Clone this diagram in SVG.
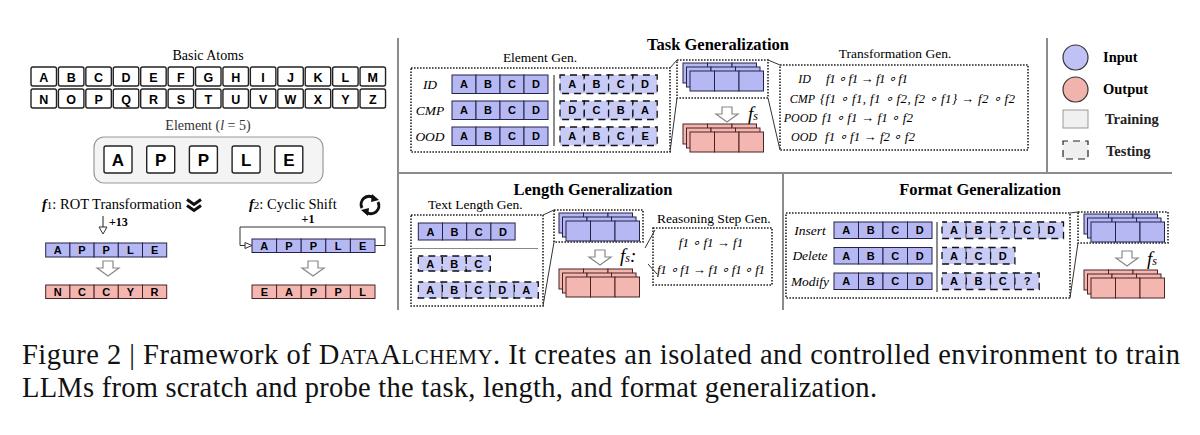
<svg xmlns="http://www.w3.org/2000/svg" xmlns:xlink="http://www.w3.org/1999/xlink" width="1200" height="435" viewBox="0 0 1200 435">
<style>
.serif{font-family:"Liberation Serif","Times New Roman",serif}
.sans{font-family:"Liberation Sans",Arial,sans-serif;font-weight:bold;text-anchor:middle}
.atom{fill:#fff;stroke:#222;stroke-width:1.4}
.bi{fill:#b6b8f3;stroke:#23234a;stroke-width:1}
.ro{fill:#f4b6b0;stroke:#4a2323;stroke-width:1}
.tst{fill:#c9cbf7;stroke:#111;stroke-width:1.3;stroke-dasharray:7 5;stroke-dashoffset:2}
.dot{fill:none;stroke:#222;stroke-width:1.6;stroke-dasharray:1.6 1.4}
.frame{stroke:#8c8c8c;stroke-width:2;fill:none}
.cl{stroke:#333;stroke-width:1;fill:none}
.ttl{font-family:"Liberation Serif","Times New Roman",serif;font-weight:bold;font-size:16.5px;text-anchor:middle}
.sub{font-family:"Liberation Serif","Times New Roman",serif;font-size:13.5px}
.lab{font-family:"Liberation Serif","Times New Roman",serif;font-style:italic;font-size:13.5px;text-anchor:middle}
.lab2{font-family:"Liberation Serif","Times New Roman",serif;font-style:italic;font-size:12px;text-anchor:end}
.fm{font-family:"Liberation Serif","Times New Roman",serif;font-style:italic;font-size:13px}
.l11{font-size:11px}
.cap{font-family:"Liberation Serif","Times New Roman",serif;font-size:28.5px;fill:#111}
</style>
<defs>
<path id="harrow" d="M-5,0 H5 V7 H11 L0,15 L-11,7 H-5 Z" fill="#fff" stroke="#888" stroke-width="1.2"/>
<g id="row3b"><rect class="bi" x="0" y="0" width="24.5" height="20"/><rect class="bi" x="24.5" y="0" width="24.5" height="20"/><rect class="bi" x="49" y="0" width="24.5" height="20"/></g>
<g id="row3r"><rect class="ro" x="0" y="0" width="24.5" height="20"/><rect class="ro" x="24.5" y="0" width="24.5" height="20"/><rect class="ro" x="49" y="0" width="24.5" height="20"/></g>
<g id="stackB"><use xlink:href="#row3b" x="0" y="0"/><use xlink:href="#row3b" x="3.5" y="4"/><use xlink:href="#row3b" x="7" y="8"/></g>
<g id="stackR"><use xlink:href="#row3r" x="0" y="0"/><use xlink:href="#row3r" x="3.5" y="4"/><use xlink:href="#row3r" x="7" y="8"/></g>
</defs>
<rect width="1200" height="435" fill="#fff"/>

<g id="frames">
<line class="frame" x1="398" y1="38" x2="398" y2="310"/>
<line class="frame" x1="398" y1="173" x2="1172" y2="173"/>
<line class="frame" x1="1047" y1="38" x2="1047" y2="173"/>
<line class="frame" x1="783" y1="173" x2="783" y2="310"/>
</g>

<g id="basic-atoms">
<text class="serif" x="208" y="60" font-size="14" text-anchor="middle">Basic Atoms</text>
<g>
<rect class="atom" x="31" y="67" width="25.5" height="19" rx="2"/><rect class="atom" x="58.42" y="67" width="25.5" height="19" rx="2"/><rect class="atom" x="85.84" y="67" width="25.5" height="19" rx="2"/><rect class="atom" x="113.26" y="67" width="25.5" height="19" rx="2"/><rect class="atom" x="140.68" y="67" width="25.5" height="19" rx="2"/><rect class="atom" x="168.1" y="67" width="25.5" height="19" rx="2"/><rect class="atom" x="195.52" y="67" width="25.5" height="19" rx="2"/><rect class="atom" x="222.94" y="67" width="25.5" height="19" rx="2"/><rect class="atom" x="250.36" y="67" width="25.5" height="19" rx="2"/><rect class="atom" x="277.78" y="67" width="25.5" height="19" rx="2"/><rect class="atom" x="305.2" y="67" width="25.5" height="19" rx="2"/><rect class="atom" x="332.62" y="67" width="25.5" height="19" rx="2"/><rect class="atom" x="360.04" y="67" width="25.5" height="19" rx="2"/>
<rect class="atom" x="31" y="89" width="25.5" height="19" rx="2"/><rect class="atom" x="58.42" y="89" width="25.5" height="19" rx="2"/><rect class="atom" x="85.84" y="89" width="25.5" height="19" rx="2"/><rect class="atom" x="113.26" y="89" width="25.5" height="19" rx="2"/><rect class="atom" x="140.68" y="89" width="25.5" height="19" rx="2"/><rect class="atom" x="168.1" y="89" width="25.5" height="19" rx="2"/><rect class="atom" x="195.52" y="89" width="25.5" height="19" rx="2"/><rect class="atom" x="222.94" y="89" width="25.5" height="19" rx="2"/><rect class="atom" x="250.36" y="89" width="25.5" height="19" rx="2"/><rect class="atom" x="277.78" y="89" width="25.5" height="19" rx="2"/><rect class="atom" x="305.2" y="89" width="25.5" height="19" rx="2"/><rect class="atom" x="332.62" y="89" width="25.5" height="19" rx="2"/><rect class="atom" x="360.04" y="89" width="25.5" height="19" rx="2"/>
</g>
<g class="sans" font-size="12.5">
<text x="43.75" y="81.5">A</text><text x="71.17" y="81.5">B</text><text x="98.59" y="81.5">C</text><text x="126.01" y="81.5">D</text><text x="153.43" y="81.5">E</text><text x="180.85" y="81.5">F</text><text x="208.27" y="81.5">G</text><text x="235.69" y="81.5">H</text><text x="263.11" y="81.5">I</text><text x="290.53" y="81.5">J</text><text x="317.95" y="81.5">K</text><text x="345.37" y="81.5">L</text><text x="372.79" y="81.5">M</text>
<text x="43.75" y="103.5">N</text><text x="71.17" y="103.5">O</text><text x="98.59" y="103.5">P</text><text x="126.01" y="103.5">Q</text><text x="153.43" y="103.5">R</text><text x="180.85" y="103.5">S</text><text x="208.27" y="103.5">T</text><text x="235.69" y="103.5">U</text><text x="263.11" y="103.5">V</text><text x="290.53" y="103.5">W</text><text x="317.95" y="103.5">X</text><text x="345.37" y="103.5">Y</text><text x="372.79" y="103.5">Z</text>
</g>
</g>

<g id="element">
<text class="serif" x="208" y="130" font-size="14" text-anchor="middle" fill="#333">Element (<tspan font-style="italic">l</tspan> = 5)</text>
<rect x="94" y="137" width="229" height="46" rx="10" fill="#f4f4f4" stroke="#999" stroke-width="1.2"/>
<rect class="atom" x="104" y="146" width="28" height="27" rx="2"/><rect class="atom" x="146.7" y="146" width="28" height="27" rx="2"/><rect class="atom" x="189.4" y="146" width="28" height="27" rx="2"/><rect class="atom" x="232.1" y="146" width="28" height="27" rx="2"/><rect class="atom" x="274.8" y="146" width="28" height="27" rx="2"/>
<g class="sans" font-size="17">
<text x="118" y="166">A</text><text x="160.7" y="166">P</text><text x="203.4" y="166">P</text><text x="246.1" y="166">L</text><text x="288.8" y="166">E</text>
</g>
</g>

<g id="f1-rot">
<text class="serif" x="42" y="209" font-size="14.5"><tspan font-style="italic" font-weight="bold">f</tspan><tspan font-size="11">1</tspan>: ROT Transformation</text>
<path d="M187,199.5 L194,204.5 L201,199.5 M187,205.5 L194,210.5 L201,205.5" fill="none" stroke="#111" stroke-width="3"/>
<line x1="103" y1="216" x2="103" y2="227" stroke="#333" stroke-width="1.1"/>
<polygon points="99,227 107,227 103,234" fill="#fff" stroke="#333" stroke-width="1"/>
<text class="serif" x="109" y="226" font-size="12" font-weight="bold">+13</text>
<rect class="bi" x="45.7" y="243" width="24.2" height="14"/><rect class="bi" x="69.9" y="243" width="24.2" height="14"/><rect class="bi" x="94.1" y="243" width="24.2" height="14"/><rect class="bi" x="118.3" y="243" width="24.2" height="14"/><rect class="bi" x="142.5" y="243" width="24.2" height="14"/>
<g class="sans l11"><text x="57.8" y="254">A</text><text x="82" y="254">P</text><text x="106.2" y="254">P</text><text x="130.4" y="254">L</text><text x="154.6" y="254">E</text></g>
<use xlink:href="#harrow" x="108" y="261"/>
<rect class="ro" x="45.7" y="285" width="24.2" height="13.5"/><rect class="ro" x="69.9" y="285" width="24.2" height="13.5"/><rect class="ro" x="94.1" y="285" width="24.2" height="13.5"/><rect class="ro" x="118.3" y="285" width="24.2" height="13.5"/><rect class="ro" x="142.5" y="285" width="24.2" height="13.5"/>
<g class="sans l11"><text x="57.8" y="296">N</text><text x="82" y="296">C</text><text x="106.2" y="296">C</text><text x="130.4" y="296">Y</text><text x="154.6" y="296">R</text></g>
</g>

<g id="f2-cyclic">
<text class="serif" x="249" y="209" font-size="14.5"><tspan font-style="italic" font-weight="bold">f</tspan><tspan font-size="11">2</tspan>: Cyclic Shift</text>
<path d="M362,208 A8,8 0 0 1 374,198" fill="none" stroke="#111" stroke-width="3"/>
<polygon points="372,194 379,200 371,202" fill="#111"/>
<path d="M378,202 A8,8 0 0 1 366,212" fill="none" stroke="#111" stroke-width="3"/>
<polygon points="368,216 361,210 369,208" fill="#111"/>
<text class="serif" x="308" y="223" font-size="12" font-weight="bold" text-anchor="middle">+1</text>
<rect class="bi" x="252" y="239" width="24.6" height="13.5"/><rect class="bi" x="276.6" y="239" width="24.6" height="13.5"/><rect class="bi" x="301.2" y="239" width="24.6" height="13.5"/><rect class="bi" x="325.8" y="239" width="24.6" height="13.5"/><rect class="bi" x="350.4" y="239" width="24.6" height="13.5"/>
<g class="sans l11"><text x="264.3" y="250">A</text><text x="288.9" y="250">P</text><text x="313.5" y="250">P</text><text x="338.1" y="250">L</text><text x="362.7" y="250">E</text></g>
<use xlink:href="#harrow" x="313" y="261"/>
<rect class="ro" x="252" y="285" width="24.6" height="13.5"/><rect class="ro" x="276.6" y="285" width="24.6" height="13.5"/><rect class="ro" x="301.2" y="285" width="24.6" height="13.5"/><rect class="ro" x="325.8" y="285" width="24.6" height="13.5"/><rect class="ro" x="350.4" y="285" width="24.6" height="13.5"/>
<g class="sans l11"><text x="264.3" y="296">E</text><text x="288.9" y="296">A</text><text x="313.5" y="296">P</text><text x="338.1" y="296">P</text><text x="362.7" y="296">L</text></g>
</g>

<g id="task-gen">
<text class="ttl" x="718" y="50">Task Generalization</text>
<text class="sub" x="540" y="62" text-anchor="middle">Element Gen.</text>
<rect class="dot" x="411" y="68" width="259" height="84"/>
<text class="lab" x="430" y="89">ID</text>
<text class="lab" x="430" y="115">CMP</text>
<text class="lab" x="430" y="141">OOD</text>
<rect class="bi" x="452" y="75" width="24" height="18.5"/><rect class="bi" x="476" y="75" width="24" height="18.5"/><rect class="bi" x="500" y="75" width="24" height="18.5"/><rect class="bi" x="524" y="75" width="24" height="18.5"/>
<rect class="bi" x="452" y="101" width="24" height="18.5"/><rect class="bi" x="476" y="101" width="24" height="18.5"/><rect class="bi" x="500" y="101" width="24" height="18.5"/><rect class="bi" x="524" y="101" width="24" height="18.5"/>
<rect class="bi" x="452" y="127" width="24" height="18.5"/><rect class="bi" x="476" y="127" width="24" height="18.5"/><rect class="bi" x="500" y="127" width="24" height="18.5"/><rect class="bi" x="524" y="127" width="24" height="18.5"/>
<line x1="554" y1="75" x2="554" y2="146" stroke="#666" stroke-width="1.5"/>
<rect class="tst" x="560" y="75" width="24.3" height="18.5"/><rect class="tst" x="584.3" y="75" width="24.3" height="18.5"/><rect class="tst" x="608.6" y="75" width="24.3" height="18.5"/><rect class="tst" x="632.9" y="75" width="24.3" height="18.5"/>
<rect class="tst" x="560" y="101" width="24.3" height="18.5"/><rect class="tst" x="584.3" y="101" width="24.3" height="18.5"/><rect class="tst" x="608.6" y="101" width="24.3" height="18.5"/><rect class="tst" x="632.9" y="101" width="24.3" height="18.5"/>
<rect class="tst" x="560" y="127" width="24.3" height="18.5"/><rect class="tst" x="584.3" y="127" width="24.3" height="18.5"/><rect class="tst" x="608.6" y="127" width="24.3" height="18.5"/><rect class="tst" x="632.9" y="127" width="24.3" height="18.5"/>
<g class="sans l11">
<text x="464" y="88.3">A</text><text x="488" y="88.3">B</text><text x="512" y="88.3">C</text><text x="536" y="88.3">D</text>
<text x="464" y="114.3">A</text><text x="488" y="114.3">B</text><text x="512" y="114.3">C</text><text x="536" y="114.3">D</text>
<text x="464" y="140.3">A</text><text x="488" y="140.3">B</text><text x="512" y="140.3">C</text><text x="536" y="140.3">D</text>
<text x="572.2" y="88.3">A</text><text x="596.5" y="88.3">B</text><text x="620.8" y="88.3">C</text><text x="645.1" y="88.3">D</text>
<text x="572.2" y="114.3">D</text><text x="596.5" y="114.3">C</text><text x="620.8" y="114.3">B</text><text x="645.1" y="114.3">A</text>
<text x="572.2" y="140.3">A</text><text x="596.5" y="140.3">B</text><text x="620.8" y="140.3">C</text><text x="645.1" y="140.3">E</text>
</g>
<rect class="dot" x="677" y="60" width="91" height="38"/>
<use xlink:href="#stackB" x="683" y="63"/>
<use xlink:href="#harrow" x="727" y="107"/>
<text class="serif" x="748" y="120" font-size="19" font-style="italic">f<tspan font-size="12">s</tspan></text>
<use xlink:href="#stackR" x="683" y="124"/>
<rect class="dot" x="780" y="65" width="248" height="85"/>
<text class="sub" x="895" y="58" text-anchor="middle" font-size="12.5">Transformation Gen.</text>
<text class="lab2" x="811" y="83">ID</text>
<text class="lab2" x="815" y="103">CMP</text>
<text class="lab2" x="817" y="122">POOD</text>
<text class="lab2" x="817" y="141">OOD</text>
<text class="fm" x="826" y="83" textLength="82">f1 ∘ f1 → f1 ∘ f1</text>
<text class="fm" x="820" y="103" textLength="195">{f1 ∘ f1, f1 ∘ f2, f2 ∘ f1} → f2 ∘ f2</text>
<text class="fm" x="822" y="122" textLength="91">f1 ∘ f1 → f1 ∘ f2</text>
<text class="fm" x="825" y="141" textLength="90">f1 ∘ f1 → f2 ∘ f2</text>
</g>

<g id="length-gen">
<text class="ttl" x="593" y="195">Length Generalization</text>
<text class="sub" x="428" y="209">Text Length Gen.</text>
<rect class="dot" x="411" y="215" width="132" height="91"/>
<rect class="bi" x="418.3" y="223" width="24.2" height="17"/><rect class="bi" x="442.5" y="223" width="24.2" height="17"/><rect class="bi" x="466.7" y="223" width="24.2" height="17"/><rect class="bi" x="490.9" y="223" width="24.2" height="17"/>
<line x1="412" y1="248.5" x2="538" y2="248.5" stroke="#888" stroke-width="1.2"/>
<rect class="tst" x="418.3" y="256" width="24" height="15"/><rect class="tst" x="442.3" y="256" width="24" height="15"/><rect class="tst" x="466.3" y="256" width="24" height="15"/>
<rect class="tst" x="418.3" y="282" width="24" height="16"/><rect class="tst" x="442.3" y="282" width="24" height="16"/><rect class="tst" x="466.3" y="282" width="24" height="16"/><rect class="tst" x="490.3" y="282" width="24" height="16"/><rect class="tst" x="514.3" y="282" width="24" height="16"/>
<g class="sans l11">
<text x="430.4" y="235.5">A</text><text x="454.6" y="235.5">B</text><text x="478.8" y="235.5">C</text><text x="503" y="235.5">D</text>
<text x="430.3" y="267.5">A</text><text x="454.3" y="267.5">B</text><text x="478.3" y="267.5">C</text>
<text x="430.3" y="294">A</text><text x="454.3" y="294">B</text><text x="478.3" y="294">C</text><text x="502.3" y="294">D</text><text x="526.3" y="294">A</text>
</g>
<rect class="dot" x="554" y="210" width="89" height="32"/>
<use xlink:href="#stackB" x="559" y="213"/>
<use xlink:href="#harrow" x="600" y="250"/>
<text class="serif" x="620" y="262" font-size="19" font-style="italic">f<tspan font-size="12">s</tspan>:</text>
<use xlink:href="#stackR" x="559" y="269"/>
<text class="sub" x="657" y="223" font-size="13.3">Reasoning Step Gen.</text>
<rect class="dot" x="653" y="228" width="119" height="57"/>
<text class="fm" x="711" y="247" text-anchor="middle">f1 ∘ f1 → f1</text>
<text class="fm" x="657" y="274" textLength="108">f1 ∘ f1 → f1  ∘ f1 ∘ f1</text>
</g>

<g id="format-gen">
<text class="ttl" x="980" y="195">Format Generalization</text>
<rect class="dot" x="786" y="213" width="284" height="85"/>
<text class="lab" x="810" y="234.5">Insert</text>
<text class="lab" x="810" y="260">Delete</text>
<text class="lab" x="810" y="285.5">Modify</text>
<rect class="bi" x="834" y="222" width="24.5" height="16.5"/><rect class="bi" x="858.5" y="222" width="24.5" height="16.5"/><rect class="bi" x="883" y="222" width="24.5" height="16.5"/><rect class="bi" x="907.5" y="222" width="24.5" height="16.5"/>
<rect class="bi" x="834" y="247.5" width="24.5" height="16.5"/><rect class="bi" x="858.5" y="247.5" width="24.5" height="16.5"/><rect class="bi" x="883" y="247.5" width="24.5" height="16.5"/><rect class="bi" x="907.5" y="247.5" width="24.5" height="16.5"/>
<rect class="bi" x="834" y="273" width="24.5" height="16.5"/><rect class="bi" x="858.5" y="273" width="24.5" height="16.5"/><rect class="bi" x="883" y="273" width="24.5" height="16.5"/><rect class="bi" x="907.5" y="273" width="24.5" height="16.5"/>
<line x1="937" y1="222" x2="937" y2="292" stroke="#666" stroke-width="1.5"/>
<rect class="tst" x="942" y="222" width="24.3" height="16.5"/><rect class="tst" x="966.3" y="222" width="24.3" height="16.5"/><rect class="tst" x="990.6" y="222" width="24.3" height="16.5"/><rect class="tst" x="1014.9" y="222" width="24.3" height="16.5"/><rect class="tst" x="1039.2" y="222" width="24.3" height="16.5"/>
<rect class="tst" x="942" y="247.5" width="24.3" height="16.5"/><rect class="tst" x="966.3" y="247.5" width="24.3" height="16.5"/><rect class="tst" x="990.6" y="247.5" width="24.3" height="16.5"/>
<rect class="tst" x="942" y="273" width="24.3" height="16.5"/><rect class="tst" x="966.3" y="273" width="24.3" height="16.5"/><rect class="tst" x="990.6" y="273" width="24.3" height="16.5"/><rect class="tst" x="1014.9" y="273" width="24.3" height="16.5"/>
<g class="sans l11">
<text x="846.2" y="234.3">A</text><text x="870.7" y="234.3">B</text><text x="895.2" y="234.3">C</text><text x="919.7" y="234.3">D</text>
<text x="846.2" y="259.8">A</text><text x="870.7" y="259.8">B</text><text x="895.2" y="259.8">C</text><text x="919.7" y="259.8">D</text>
<text x="846.2" y="285.3">A</text><text x="870.7" y="285.3">B</text><text x="895.2" y="285.3">C</text><text x="919.7" y="285.3">D</text>
<text x="954.1" y="234.3">A</text><text x="978.4" y="234.3">B</text><text x="1002.7" y="234.3">?</text><text x="1027" y="234.3">C</text><text x="1051.3" y="234.3">D</text>
<text x="954.1" y="259.8">A</text><text x="978.4" y="259.8">C</text><text x="1002.7" y="259.8">D</text>
<text x="954.1" y="285.3">A</text><text x="978.4" y="285.3">B</text><text x="1002.7" y="285.3">C</text><text x="1027" y="285.3">?</text>
</g>
<rect class="dot" x="1078" y="212" width="90" height="31"/>
<use xlink:href="#stackB" x="1084" y="214"/>
<use xlink:href="#harrow" x="1127" y="251"/>
<text class="serif" x="1147" y="265" font-size="19" font-style="italic">f<tspan font-size="12">s</tspan></text>
<use xlink:href="#stackR" x="1084" y="270"/>
</g>

<g id="legend">
<circle cx="1075.5" cy="57.5" r="12.5" fill="#c0c2f5" stroke="#333" stroke-width="1.2"/>
<text class="serif" x="1103" y="62" font-size="14.5" font-weight="bold">Input</text>
<circle cx="1075.5" cy="89.5" r="12.5" fill="#f2b3ad" stroke="#333" stroke-width="1.2"/>
<text class="serif" x="1103" y="94" font-size="14.5" font-weight="bold">Output</text>
<rect x="1063" y="110" width="25" height="18" fill="#f0f0f0" stroke="#999" stroke-width="1"/>
<text class="serif" x="1105" y="124" font-size="14.5" font-weight="bold" fill="#222">Training</text>
<rect x="1063" y="141" width="25" height="18" fill="#efefef" stroke="#222" stroke-width="1.2" stroke-dasharray="7 5" stroke-dashoffset="2"/>
<text class="serif" x="1106" y="156" font-size="14.5" font-weight="bold" fill="#222">Testing</text>
</g>

<g id="connectors">
<line class="cl" x1="670" y1="68" x2="677" y2="60"/>
<line class="cl" x1="670" y1="152" x2="677" y2="98"/>
<line class="cl" x1="768" y1="60" x2="780" y2="65"/>
<line class="cl" x1="768" y1="98" x2="780" y2="150"/>
<line class="cl" x1="543" y1="215" x2="554" y2="210"/>
<line class="cl" x1="543" y1="306" x2="554" y2="242"/>
<line class="cl" x1="645" y1="248" x2="655" y2="230"/>
<line class="cl" x1="648" y1="264" x2="657" y2="274"/>
<line class="cl" x1="1070" y1="213" x2="1078" y2="212"/>
<line class="cl" x1="1070" y1="298" x2="1078" y2="243"/>
<path class="cl" d="M375,245.5 H385 V227 H240 V245.5 H245"/>
<polygon points="245,242.5 252,245.5 245,248.5" fill="#fff" stroke="#333" stroke-width="1"/>
</g>

<g id="caption">
<text class="cap" x="22" y="364" textLength="1158">Figure 2 | Framework of D<tspan font-size="21">ATA</tspan>A<tspan font-size="21">LCHEMY</tspan>. It creates an isolated and controlled environment to train</text>
<text class="cap" x="22" y="397" textLength="855">LLMs from scratch and probe the task, length, and format generalization.</text>
</g>
</svg>
